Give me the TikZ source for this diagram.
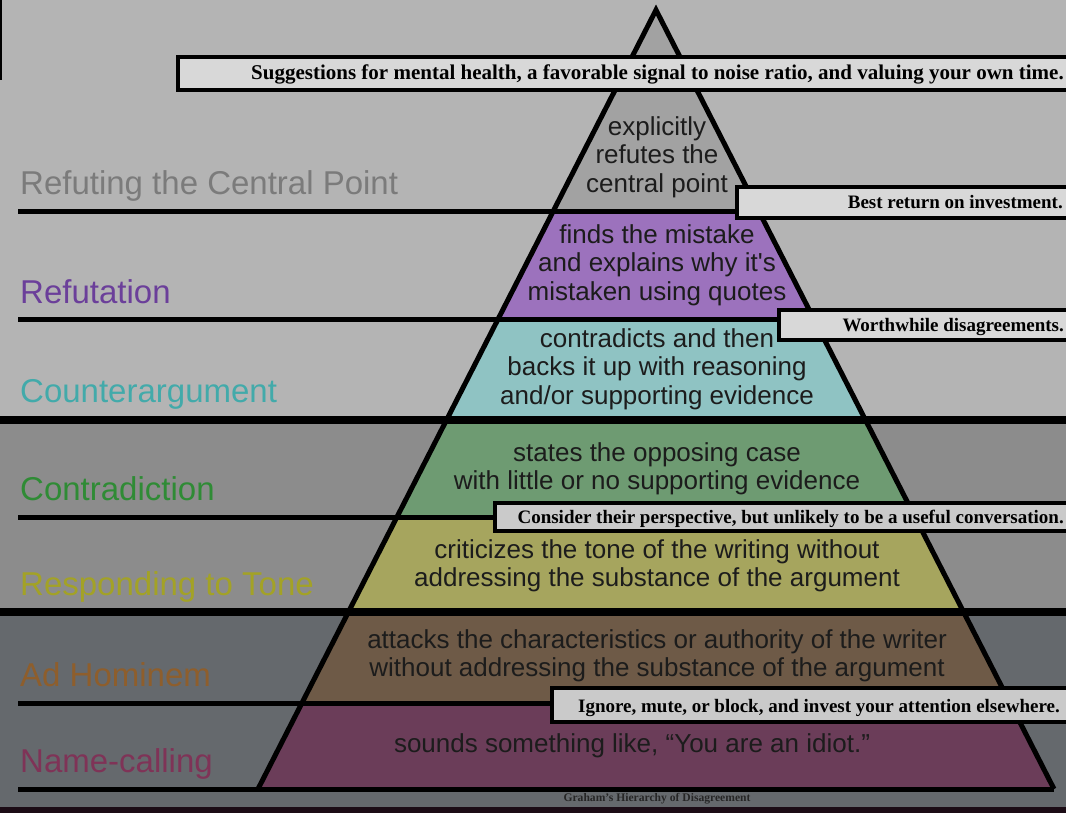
\documentclass[tikz,border=0pt]{standalone}
\usepackage{fontspec}
\setmainfont{Liberation Sans}
\newfontfamily\boxfont{Liberation Serif}
\usetikzlibrary{positioning}

\definecolor{bgtop}{HTML}{B4B4B4}
\definecolor{bgmid}{HTML}{8C8C8C}
\definecolor{bgbot}{HTML}{65696D}
\definecolor{bgstrip}{HTML}{1C0C16}
\definecolor{lvlgray}{HTML}{A2A2A2}
\definecolor{lvlpurple}{HTML}{9C72BD}
\definecolor{lvlteal}{HTML}{8FC3C3}
\definecolor{lvlgreen}{HTML}{6E9B72}
\definecolor{lvlolive}{HTML}{A6A55E}
\definecolor{lvlbrown}{HTML}{6E5A47}
\definecolor{lvlmaroon}{HTML}{6B3D59}
\definecolor{txtgray}{HTML}{7B7B7B}
\definecolor{txtpurple}{HTML}{6B3F9A}
\definecolor{txtteal}{HTML}{42AAAA}
\definecolor{txtgreen}{HTML}{2F8B35}
\definecolor{txtolive}{HTML}{A3A226}
\definecolor{txtbrown}{HTML}{8E5E2C}
\definecolor{txtmaroon}{HTML}{7F3357}
\definecolor{pyrtext}{HTML}{1C1C1C}
\definecolor{boxlight}{HTML}{D8D8D8}
\definecolor{boxdark}{HTML}{CACACA}

\tikzset{
  level text/.style={font=\fontsize{26}{28.5}\selectfont, text=pyrtext,
    align=center, inner sep=0pt},
  side label/.style={font=\fontsize{33}{38}\selectfont, anchor=base west,
    inner sep=0pt},
  thin rule/.style={line width=5pt},
  thick rule/.style={line width=8pt},
  callout/.style={draw, line width=3.5pt},
  callout text/.style={font=\boxfont\bfseries\fontsize{19}{22}\selectfont,
    anchor=base east, inner sep=0pt},
}

\begin{document}
\begin{tikzpicture}[x=1pt, y=-1pt]
  \useasboundingbox (0,0) rectangle (1066,813);
  % backdrop
  \fill[bgtop] (0,0) rectangle (1066,420);
  \fill[bgmid] (0,420) rectangle (1066,612);
  \fill[bgbot] (0,612) rectangle (1066,807);
  \fill[bgstrip] (0,807) rectangle (1066,813);
  \draw[line width=2pt] (1,0) -- (1,80);

  % pyramid levels
  \foreach \ya/\yb/\col in {10/212/lvlgray, 212/319/lvlpurple, 319/420/lvlteal,
      420/517/lvlgreen, 517/612/lvlolive, 612/703/lvlbrown, 703/789/lvlmaroon} {
    \pgfmathsetmacro\da{0.511*(\ya-10)}
    \pgfmathsetmacro\db{0.511*(\yb-10)}
    \fill[\col] (656-\da,\ya) -- (656+\da,\ya) -- (656+\db,\yb) -- (656-\db,\yb) -- cycle;
  }

  % rules between levels
  \foreach \yy in {212, 319, 517, 703, 789} {
    \pgfmathsetmacro\dd{0.511*(\yy-10)}
    \draw[thin rule] (18,\yy) -- (656+\dd,\yy);
  }
  \draw[thick rule] (0,420) -- (1066,420);
  \draw[thick rule] (0,612) -- (1066,612);
  \draw[line width=5pt] (258,789) -- (656,10) -- (1054,789);

  % texts in the pyramid
  \node[level text] (central) at (657,157) {explicitly\\refutes the\\central point};
  \node[level text] (refute) at (657,265) {finds the mistake\\and explains why it\textquotesingle s\\mistaken using quotes};
  \node[level text] (counter) at (657,369) {contradicts and then\\backs it up with reasoning\\and/or supporting evidence};
  \node[level text] (contra) at (657,469) {states the opposing case\\with little or no supporting evidence};
  \node[level text] (tone) at (657,566) {criticizes the tone of the writing without\\addressing the substance of the argument};
  \node[level text] (hominem) at (657,656) {attacks the characteristics or authority of the writer\\without addressing the substance of the argument};
  \node[level text] (names) at (632,746) {sounds something like, “You are an idiot.”};

  % level names
  \node[side label, text=txtgray] (lblcentral) at (20,195) {Refuting the Central Point};
  \node[side label, text=txtpurple] (lblrefute) at (20,303) {Refutation};
  \node[side label, text=txtteal] (lblcounter) at (20,402) {Counterargument};
  \node[side label, text=txtgreen] (lblcontra) at (20,500) {Contradiction};
  \node[side label, text=txtolive] (lbltone) at (20,595) {Responding to Tone};
  \node[side label, text=txtbrown] (lblhominem) at (20,686) {Ad Hominem};
  \node[side label, text=txtmaroon] (lblnames) at (20,772) {Name-calling};

  % advice boxes
  \draw[callout, fill=boxlight] (178,57) rectangle (1080,90);
  \node[callout text, font=\boxfont\bfseries\fontsize{21}{23}\selectfont] (advtop) at (1064,80) {Suggestions for mental health, a favorable signal to noise ratio, and valuing your own time.};
  \draw[callout, fill=boxlight] (737,187) rectangle (1080,218);
  \node[callout text] (advbest) at (1063,209) {Best return on investment.};
  \draw[callout, fill=boxlight] (779,310) rectangle (1080,340);
  \node[callout text] (advworth) at (1064,331) {Worthwhile disagreements.};
  \draw[callout, fill=boxdark] (495,503) rectangle (1080,531);
  \node[callout text] (advconsider) at (1064,523) {Consider their perspective, but unlikely to be a useful conversation.};
  \draw[callout, fill=boxdark] (552,688) rectangle (1080,722);
  \node[callout text] (advignore) at (1060,712) {Ignore, mute, or block, and invest your attention elsewhere.};

  \node[font=\boxfont\bfseries\fontsize{11.6}{13}\selectfont, text=black!85] (title) at (657,799) {Graham’s Hierarchy of Disagreement};
\end{tikzpicture}
\end{document}
